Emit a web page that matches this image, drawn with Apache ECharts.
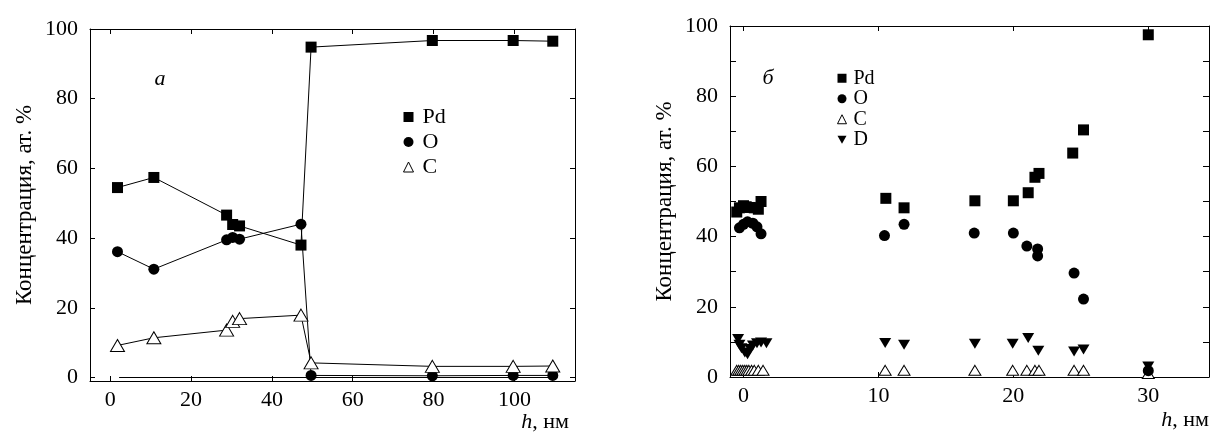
<!DOCTYPE html>
<html>
<head>
<meta charset="utf-8">
<script src="https://cdn.jsdelivr.net/npm/echarts@6/dist/echarts.min.js"></script>
<style>
html,body{margin:0;padding:0;background:#fff;}
#chart{width:1210px;height:432px;}
</style>
</head>
<body>
<div id="chart"></div>
<script>
// ---- Panel a ----
const hA  = [1.8, 10.8, 28.8, 30.3, 32.0, 47.2, 49.7, 79.7, 99.7, 109.5];
const pdA = [54.5, 57.4, 46.6, 43.9, 43.5, 38.0, 94.8, 96.7, 96.7, 96.5];
const oA  = [36.1, 31.1, 39.5, 40.2, 39.7, 44.0, 0.6, 0.5, 0.6, 0.6];
const cA  = [9.2, 11.4, 13.6, 16.1, 16.9, 17.9, 4.2, 3.2, 3.2, 3.3];
const baseH = [2.2, 110];
const baseV = [0, 0];

// ---- Panel б ----
const hPdB = [-0.5, -0.3, 0, 0.2, 0.5, 0.8, 1.1, 1.3, 10.55, 11.9, 17.15, 20.0, 21.1, 21.6, 21.9, 24.4, 25.2, 30.0];
const pdB  = [47, 48.2, 48.8, 48.5, 48.3, 48.2, 47.8, 50, 50.9, 48.2, 50.2, 50.2, 52.5, 56.9, 58.0, 63.8, 70.4, 97.5];
const hOB  = [-0.3, 0, 0.3, 0.7, 1.0, 1.3, 10.45, 11.9, 17.1, 20.0, 21.0, 21.8, 21.8, 24.5, 25.2, 30.0];
const oB   = [42.5, 43.5, 44.2, 43.8, 42.8, 40.8, 40.3, 43.5, 41, 41, 37.3, 36.5, 34.5, 29.6, 22.2, 1.8];
const hCB  = [-0.5, -0.35, -0.2, -0.05, 0.1, 0.25, 0.4, 0.6, 0.8, 1.1, 1.45, 10.5, 11.9, 17.15, 19.95, 21.0, 21.6, 21.9, 24.5, 25.2, 30.0];
const cB   = [1.9, 1.9, 1.9, 1.9, 1.9, 1.9, 1.9, 1.9, 1.9, 1.9, 1.9, 1.9, 1.9, 1.9, 1.9, 1.9, 1.9, 1.9, 1.9, 1.9, 1.0];
const hDB  = [-0.4, -0.3, -0.15, 0.1, 0.3, 0.5, 0.7, 1.0, 1.3, 1.7, 10.5, 11.9, 17.15, 19.95, 21.1, 21.85, 24.5, 25.2, 30.0];
const dB   = [10.8, 9.2, 8.2, 7.0, 6.5, 8.0, 9.0, 9.6, 9.8, 9.6, 9.7, 9.2, 9.5, 9.5, 11.1, 7.5, 7.3, 7.8, 3.0];

// tick labels
const xTicksA = [0, 20, 40, 60, 80, 100];
const yTicksA = [0, 20, 40, 60, 80, 100];
const xTicksB = [0, 10, 20, 30];
const yLabelsB = [0, 20, 40, 60, 80, 100];
const yTicksB = [0, 10, 20, 30, 40, 50, 60, 70, 80, 90, 100];

const yTitle = 'Концентрация, ат. %';
const xTitle = '{i|h}, нм';

const zip = (xs, ys) => xs.map((x, i) => [x, ys[i]]);
const FONT = '"Liberation Serif", "DejaVu Serif", serif';
const black = '#000';

function axisCommon(extra) {
  return Object.assign({
    type: 'value',
    axisLine: {show: true, onZero: false, lineStyle: {color: black, width: 1}},
    splitLine: {show: false},
    axisLabel: {color: black, fontFamily: FONT, fontSize: 22},
    axisTick: {show: true, inside: true, length: 5, lineStyle: {color: black}}
  }, extra);
}

const downTri = 'path://M0,0 L10,0 L5,8.66 Z';
const lineStyle = {color: black, width: 1};
const solid = {color: black, opacity: 1};
const open = {color: '#fff', borderColor: black, borderWidth: 1, opacity: 1};

const option = {
  animation: false,
  backgroundColor: '#fff',
  grid: [
    {left: 90, right: 635, top: 29, bottom: 51},
    {left: 730, right: 1, top: 26, bottom: 55}
  ],
  xAxis: [
    axisCommon({gridIndex: 0, min: -5, max: 115, position: 'bottom',
      axisLabel: {color: black, fontFamily: FONT, fontSize: 22, margin: 8, customValues: xTicksA},
      axisTick: {show: true, inside: true, length: 5, lineStyle: {color: black}, customValues: xTicksA}}),
    axisCommon({gridIndex: 0, min: -5, max: 115, position: 'top',
      axisLabel: {show: false},
      axisTick: {show: true, inside: true, length: 5, lineStyle: {color: black}, customValues: xTicksA}}),
    axisCommon({gridIndex: 1, min: -1, max: 34.5, position: 'bottom',
      axisLabel: {color: black, fontFamily: FONT, fontSize: 22, margin: 8, customValues: xTicksB},
      axisTick: {show: true, inside: true, length: 5, lineStyle: {color: black}, customValues: xTicksB}}),
    axisCommon({gridIndex: 1, min: -1, max: 34.5, position: 'top',
      axisLabel: {show: false},
      axisTick: {show: true, inside: true, length: 5, lineStyle: {color: black}, customValues: xTicksB}})
  ],
  yAxis: [
    axisCommon({gridIndex: 0, min: -1, max: 100, position: 'left',
      name: yTitle, nameLocation: 'middle', nameGap: 54,
      nameTextStyle: {color: black, fontFamily: FONT, fontSize: 23},
      axisLabel: {color: black, fontFamily: FONT, fontSize: 22, margin: 12, customValues: yTicksA},
      axisTick: {show: true, inside: true, length: 5, lineStyle: {color: black}, customValues: yTicksA}}),
    axisCommon({gridIndex: 0, min: -1, max: 100, position: 'right',
      axisLabel: {show: false},
      axisTick: {show: true, inside: true, length: 5, lineStyle: {color: black}, customValues: yTicksA}}),
    axisCommon({gridIndex: 1, min: 0, max: 100, position: 'left',
      name: yTitle, nameLocation: 'middle', nameGap: 54,
      nameTextStyle: {color: black, fontFamily: FONT, fontSize: 23},
      axisLabel: {color: black, fontFamily: FONT, fontSize: 22, margin: 12, customValues: yLabelsB},
      axisTick: {show: true, inside: true, length: 6, lineStyle: {color: black}, customValues: yTicksB}}),
    axisCommon({gridIndex: 1, min: 0, max: 100, position: 'right',
      axisLabel: {show: false},
      axisTick: {show: true, inside: true, length: 6, lineStyle: {color: black}, customValues: yTicksB}})
  ],
  legend: [
    {orient: 'vertical', left: 398, top: 101, itemGap: 3, itemWidth: 10, itemHeight: 10,
      data: [
        {name: 'Pd', icon: 'rect', itemStyle: solid},
        {name: 'O', icon: 'circle', itemStyle: solid},
        {name: 'C', icon: 'triangle', itemStyle: open}
      ],
      textStyle: {color: black, fontFamily: FONT, fontSize: 22, lineHeight: 22, padding: [0, 0, 0, 4]}},
    {orient: 'vertical', left: 832, top: 63, itemGap: 0, itemWidth: 9, itemHeight: 9,
      data: [
        {name: 'Pd', icon: 'rect', itemStyle: solid},
        {name: 'O', icon: 'circle', itemStyle: solid},
        {name: 'C', icon: 'triangle', itemStyle: open},
        {name: 'D', icon: downTri, itemStyle: solid}
      ],
      textStyle: {color: black, fontFamily: FONT, fontSize: 20, lineHeight: 20.5, padding: [0, 0, 0, 2]}}
  ],
  graphic: [
    {type: 'text', x: 160, y: 79, style: {text: 'a', font: 'italic 22px "Liberation Serif", serif', fill: black, align: 'center', verticalAlign: 'middle', textAlign: 'center', textVerticalAlign: 'middle'}},
    {type: 'text', x: 768, y: 78, style: {text: 'б', font: 'italic 22px "Liberation Serif", serif', fill: black, align: 'center', verticalAlign: 'middle', textAlign: 'center', textVerticalAlign: 'middle'}},
    {type: 'text', x: 569, y: 422, style: {text: xTitle, font: '22px "Liberation Serif", serif', fill: black, align: 'right', verticalAlign: 'middle', textAlign: 'right', textVerticalAlign: 'middle',
      rich: {i: {fontFamily: FONT, fontSize: 22, fontStyle: 'italic', fill: black}}}},
    {type: 'text', x: 1209, y: 420, style: {text: xTitle, font: '22px "Liberation Serif", serif', fill: black, align: 'right', verticalAlign: 'middle', textAlign: 'right', textVerticalAlign: 'middle',
      rich: {i: {fontFamily: FONT, fontSize: 22, fontStyle: 'italic', fill: black}}}}
  ],
  series: [
    {name: 'base', type: 'line', xAxisIndex: 0, yAxisIndex: 0, data: zip(baseH, baseV), showSymbol: false, symbol: 'none', lineStyle: lineStyle, silent: true, z: 1},
    {name: 'Pd', type: 'line', xAxisIndex: 0, yAxisIndex: 0, data: zip(hA, pdA), symbol: 'rect', symbolSize: 11,
      itemStyle: solid, lineStyle: lineStyle, z: 3},
    {name: 'O', type: 'line', xAxisIndex: 0, yAxisIndex: 0, data: zip(hA, oA), symbol: 'circle', symbolSize: 11,
      itemStyle: solid, lineStyle: lineStyle, z: 3},
    {name: 'C', type: 'line', xAxisIndex: 0, yAxisIndex: 0, data: zip(hA, cA), symbol: 'triangle', symbolSize: [14, 12],
      itemStyle: open, lineStyle: lineStyle, z: 3},

    {name: 'C', type: 'scatter', xAxisIndex: 2, yAxisIndex: 2, data: zip(hCB, cB), symbol: 'triangle', symbolSize: [12, 10],
      itemStyle: open, z: 2},
    {name: 'O', type: 'scatter', xAxisIndex: 2, yAxisIndex: 2, data: zip(hOB, oB), symbol: 'circle', symbolSize: 11,
      itemStyle: solid, z: 3},
    {name: 'D', type: 'scatter', xAxisIndex: 2, yAxisIndex: 2, data: zip(hDB, dB), symbol: downTri, symbolSize: [12, 10],
      itemStyle: solid, z: 3},
    {name: 'Pd', type: 'scatter', xAxisIndex: 2, yAxisIndex: 2, data: zip(hPdB, pdB), symbol: 'rect', symbolSize: 11,
      itemStyle: solid, z: 3}
  ]
};

const chart = echarts.init(document.getElementById('chart'), null, {renderer: 'canvas'});
chart.setOption(option);
</script>
</body>
</html>
